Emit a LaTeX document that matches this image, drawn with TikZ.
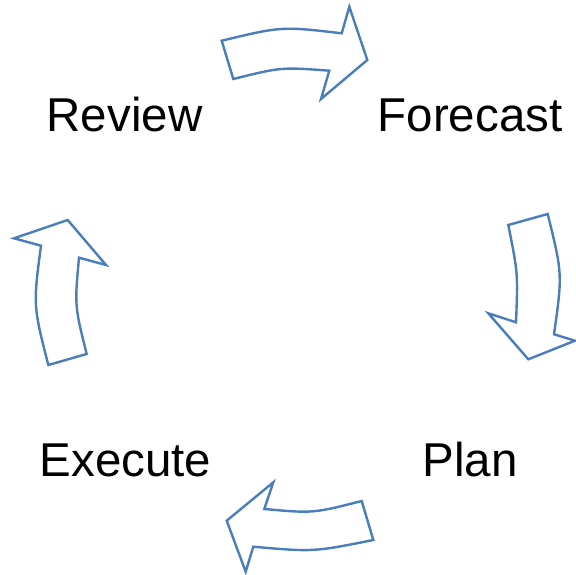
\documentclass[tikz,border=0pt]{standalone}
\usepackage{fontspec}
\setmainfont{Liberation Sans}
\definecolor{arrowblue}{RGB}{74,126,187}
\begin{document}
\begin{tikzpicture}[x=1pt,y=-1pt,
  cyclearrow/.style={draw=arrowblue,line width=2.4pt,fill=white,line join=miter},
  label/.style={anchor=base,inner sep=0pt,font=\fontsize{47.5}{56}\selectfont}]
\useasboundingbox (0,0) rectangle (576,575);
% top arrow (Review -> Forecast)
\draw[cyclearrow] (221.7,40.7) .. controls (281.7,26.3) .. (341.7,33.3)
  -- (349.3,6.7) -- (367.3,60) -- (321,99) -- (329.3,70.7)
  .. controls (281.3,67.1) .. (233.3,79) -- cycle;
% right arrow (Forecast -> Plan)
\draw[cyclearrow] (508.3,225) -- (547.7,214)
  .. controls (562.5,274) .. (554,334.3)
  -- (575,340.7) -- (528.3,359.3) -- (488.3,313.3) -- (516,322.3)
  .. controls (518,273.7) .. cycle;
% bottom arrow (Plan -> Execute)
\draw[cyclearrow] (361.7,501) -- (373.3,540)
  .. controls (313.3,552) .. (253.3,546.7)
  -- (245.7,571.7) -- (226.7,520.7) -- (273.3,482.3) -- (264.3,509)
  .. controls (313,513.4) .. cycle;
% left arrow (Execute -> Review)
\draw[cyclearrow] (48.3,365) -- (86.7,354)
  .. controls (74.6,305.9) .. (79,257.7)
  -- (106,265) -- (67.7,220) -- (14,238.3) -- (41,245.7)
  .. controls (33.1,305.4) .. cycle;
\node[label] (review) at (124.5,132) {Review};
\node[label] (forecast) at (470,132) {Forecast};
\node[label] (plan) at (470,476) {Plan};
\node[label] (execute) at (125.5,476) {Execute};
\end{tikzpicture}
\end{document}
